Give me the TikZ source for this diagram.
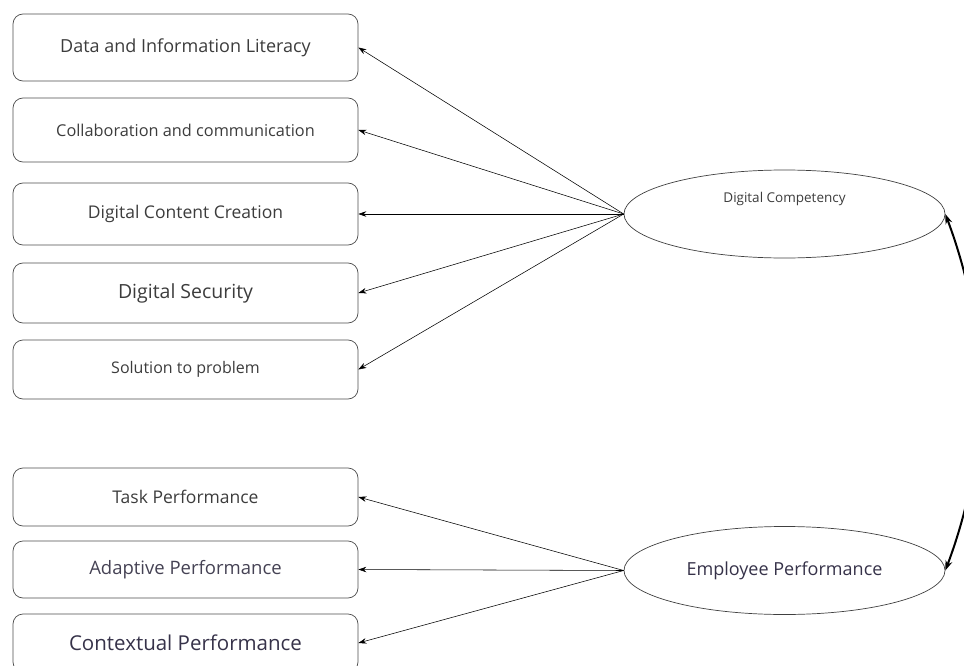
\documentclass[tikz,border=0pt]{standalone}
\usepackage{fontspec}
\setmainfont{Open Sans}
\usetikzlibrary{shapes.geometric,arrows.meta}

\definecolor{txtgray}{HTML}{3C3C3C}
\definecolor{txtdark}{HTML}{363249}
\tikzset{
  item/.style = {draw=gray!60!black, line width=0.7pt, rounded corners=10pt,
                 minimum width=345pt, inner sep=0pt, text=txtgray},
  latent/.style = {draw=gray!50!black, line width=0.7pt, ellipse,
                   minimum width=321pt, minimum height=88pt, inner sep=0pt},
  load/.style = {-{Stealth[length=8pt,width=5.5pt]}, line width=0.55pt}
}

\begin{document}
\begin{tikzpicture}[x=1pt, y=-1pt]
\useasboundingbox (0,0) rectangle (964,666);

\node[item, minimum height=67pt, font=\fontsize{18}{20}\selectfont] (dil) at (185.5,47.5) {Data and Information Literacy};
\node[item, minimum height=64pt, font=\fontsize{16.3}{18}\selectfont] (cc)  at (185.5,130)  {Collaboration and communication};
\node[item, minimum height=62pt, font=\fontsize{17.5}{19}\selectfont] (dcc) at (185.5,214)  {Digital Content Creation};
\node[item, minimum height=60pt, font=\fontsize{19.5}{21}\selectfont] (ds)  at (185.5,293)  {Digital Security};
\node[item, minimum height=59pt, font=\fontsize{16}{18}\selectfont] (sp)  at (185.5,369.5){Solution to problem};

\node[item, minimum height=58pt, font=\fontsize{17.5}{19}\selectfont] (tp)  at (185.5,497)  {Task Performance};
\node[item, minimum height=57pt, font=\fontsize{18.5}{20}\selectfont, text=txtdark!80!gray] (ap) at (185.5,569.5) {Adaptive Performance};
\node[item, minimum height=58pt, font=\fontsize{20.5}{22}\selectfont, text=txtdark] (cp) at (185.5,643) {Contextual Performance};

\node[latent, label={[font=\fontsize{13.5}{15}\selectfont, text=txtgray, yshift=15pt]center:Digital Competency}] (dc) at (784.5,214) {};
\node[latent, font=\fontsize{18}{20}\selectfont, text=txtdark] (ep) at (784.5,570.5) {Employee Performance};

% loadings
\foreach \t in {dil,cc,dcc,ds,sp}
  \draw[load] (dc.west) -- (\t.east);
\foreach \t in {tp,ap,cp}
  \draw[load] (ep.west) -- (\t.east);

% covariance
\draw[{Stealth[length=10pt,width=7pt]}-{Stealth[length=10pt,width=7pt]}, line width=2pt]
  (dc.east) .. controls +(45,120) and +(45,-120) .. (ep.east);
\end{tikzpicture}
\end{document}
